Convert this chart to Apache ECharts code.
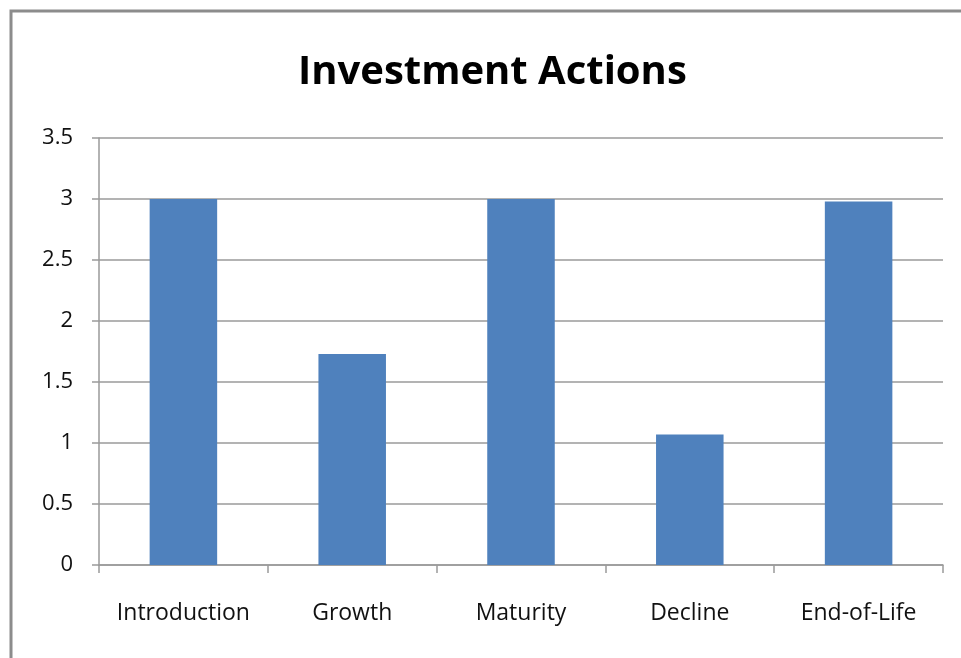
<!DOCTYPE html>
<html>
<head>
<meta charset="utf-8">
<script src="https://cdn.jsdelivr.net/npm/echarts@6/dist/echarts.min.js"></script>
<style>
  html, body { margin: 0; padding: 0; background: #ffffff; }
  #chart { width: 961px; height: 658px; }
</style>
</head>
<body>
<div id="chart"></div>
<script>
// Investment actions across the product life cycle
const stages = ['Introduction', 'Growth', 'Maturity', 'Decline', 'End-of-Life'];
const actionScores = [3, 1.73, 3, 1.07, 2.98];
const chartTitle = 'Investment Actions';

const axisGray = '#9a9a9a';
const labelFont = 'Open Sans';

const chart = echarts.init(document.getElementById('chart'), null, { renderer: 'canvas' });
chart.setOption({
  backgroundColor: '#ffffff',
  animation: false,
  title: {
    text: chartTitle,
    left: 293,
    top: 48,
    textStyle: {
      fontFamily: labelFont,
      fontWeight: 'bold',
      fontSize: 40,
      color: '#000000'
    }
  },
  graphic: [{
    type: 'rect',
    shape: { x: 11, y: 11, width: 1000, height: 700 },
    style: { fill: 'none', stroke: '#8c8c8c', lineWidth: 3 },
    silent: true,
    z: 100
  }],
  grid: { left: 99, right: 18, top: 138, bottom: 93, containLabel: false },
  xAxis: {
    type: 'category',
    data: stages,
    axisLine: { lineStyle: { color: axisGray, width: 1.5 } },
    axisTick: { show: true, interval: 0, alignWithLabel: false, length: 8, lineStyle: { color: axisGray, width: 1.5 } },
    axisLabel: { interval: 0, hideOverlap: false, margin: 37, fontFamily: labelFont, fontSize: 23, color: '#111111' },
    splitLine: { show: false }
  },
  yAxis: {
    type: 'value',
    min: 0,
    max: 3.5,
    interval: 0.5,
    axisLine: { show: true, lineStyle: { color: axisGray, width: 1.5 } },
    axisTick: { show: true, length: 7, lineStyle: { color: axisGray, width: 1.5 } },
    axisLabel: { margin: 26, fontFamily: labelFont, fontSize: 22, color: '#111111' },
    splitLine: { show: true, lineStyle: { color: axisGray, width: 1.5 } }
  },
  series: [{
    type: 'bar',
    data: actionScores,
    barWidth: '40%',
    itemStyle: { color: '#4f81bd' }
  }]
});
</script>
</body>
</html>
